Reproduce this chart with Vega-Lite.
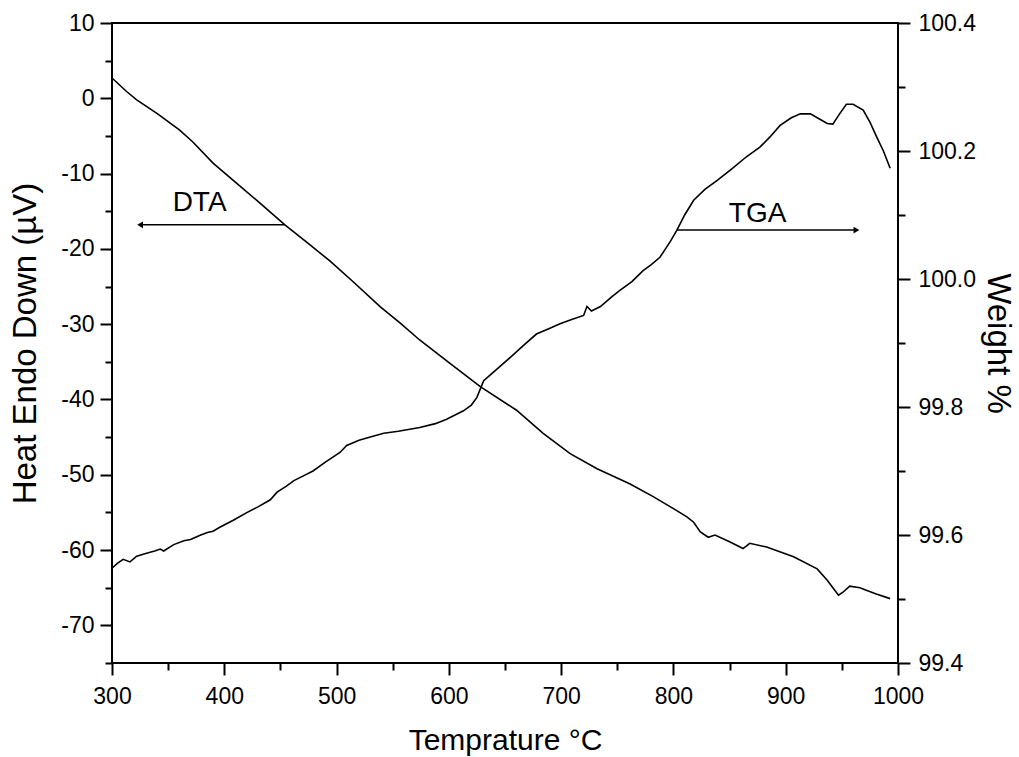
{
  "$schema": "https://vega.github.io/schema/vega-lite/v6.json",
  "width": 786,
  "height": 640,
  "autosize": "none",
  "padding": {"left": 112, "top": 23, "right": 121, "bottom": 94},
  "background": "white",
  "config": {
    "view": {"stroke": "black", "strokeWidth": 2},
    "axis": {
      "labelFont": "Liberation Sans",
      "titleFont": "Liberation Sans",
      "labelFontSize": 23,
      "titleFontSize": 33,
      "titleFontWeight": "normal",
      "labelColor": "black",
      "titleColor": "black",
      "tickColor": "black",
      "domainColor": "black",
      "tickWidth": 2,
      "domainWidth": 2,
      "grid": false,
      "tickSize": 12,
      "labelPadding": 6,
      "labelFlush": false
    },
    "text": {"font": "Liberation Sans"}
  },
  "datasets": {
    "dta": [
      {"t": 300, "v": 2.7}, {"t": 313, "v": 0.9}, {"t": 322, "v": -0.2}, {"t": 340, "v": -2.0},
      {"t": 360, "v": -4.2}, {"t": 372, "v": -5.8}, {"t": 390, "v": -8.6}, {"t": 408, "v": -10.9},
      {"t": 430, "v": -13.7}, {"t": 454, "v": -16.8}, {"t": 475, "v": -19.3}, {"t": 494, "v": -21.6},
      {"t": 515, "v": -24.4}, {"t": 539, "v": -27.7}, {"t": 557, "v": -29.9}, {"t": 574, "v": -32.1},
      {"t": 601, "v": -35.2}, {"t": 628, "v": -38.3}, {"t": 660, "v": -41.4}, {"t": 684, "v": -44.5},
      {"t": 708, "v": -47.2}, {"t": 732, "v": -49.2}, {"t": 761, "v": -51.2}, {"t": 782, "v": -52.9},
      {"t": 800, "v": -54.5}, {"t": 812, "v": -55.6}, {"t": 818, "v": -56.3}, {"t": 824, "v": -57.6},
      {"t": 831, "v": -58.3}, {"t": 837, "v": -58.0}, {"t": 850, "v": -58.9}, {"t": 862, "v": -59.8},
      {"t": 868, "v": -59.1}, {"t": 883, "v": -59.6}, {"t": 907, "v": -60.9}, {"t": 928, "v": -62.5},
      {"t": 937, "v": -64.0}, {"t": 942, "v": -65.0}, {"t": 947, "v": -66.0}, {"t": 951, "v": -65.6},
      {"t": 957, "v": -64.8}, {"t": 966, "v": -65.0}, {"t": 980, "v": -65.8}, {"t": 993, "v": -66.45}
    ],
    "tga": [
      {"t": 300, "w": 99.548}, {"t": 305, "w": 99.556}, {"t": 310, "w": 99.562}, {"t": 316, "w": 99.558},
      {"t": 322, "w": 99.567}, {"t": 330, "w": 99.571}, {"t": 338, "w": 99.575}, {"t": 343, "w": 99.578},
      {"t": 346, "w": 99.575}, {"t": 355, "w": 99.585}, {"t": 364, "w": 99.591}, {"t": 370, "w": 99.593},
      {"t": 375, "w": 99.597}, {"t": 379, "w": 99.6}, {"t": 385, "w": 99.604}, {"t": 390, "w": 99.606},
      {"t": 396, "w": 99.612}, {"t": 408, "w": 99.623}, {"t": 420, "w": 99.635}, {"t": 430, "w": 99.644},
      {"t": 441, "w": 99.655}, {"t": 447, "w": 99.667}, {"t": 455, "w": 99.676}, {"t": 462, "w": 99.685},
      {"t": 470, "w": 99.692}, {"t": 479, "w": 99.7}, {"t": 490, "w": 99.714}, {"t": 503, "w": 99.729},
      {"t": 509, "w": 99.74}, {"t": 520, "w": 99.748}, {"t": 530, "w": 99.753}, {"t": 542, "w": 99.759},
      {"t": 555, "w": 99.762}, {"t": 574, "w": 99.768}, {"t": 588, "w": 99.774}, {"t": 598, "w": 99.781},
      {"t": 613, "w": 99.794}, {"t": 620, "w": 99.803}, {"t": 625, "w": 99.815}, {"t": 631, "w": 99.841},
      {"t": 640, "w": 99.855}, {"t": 655, "w": 99.878}, {"t": 667, "w": 99.897}, {"t": 678, "w": 99.914},
      {"t": 690, "w": 99.923}, {"t": 699, "w": 99.93}, {"t": 710, "w": 99.937}, {"t": 720, "w": 99.943},
      {"t": 723, "w": 99.957}, {"t": 727, "w": 99.95}, {"t": 735, "w": 99.957}, {"t": 745, "w": 99.972},
      {"t": 752, "w": 99.982}, {"t": 763, "w": 99.996}, {"t": 773, "w": 100.013}, {"t": 780, "w": 100.022},
      {"t": 788, "w": 100.034}, {"t": 797, "w": 100.058}, {"t": 803, "w": 100.076}, {"t": 810, "w": 100.1},
      {"t": 818, "w": 100.123}, {"t": 828, "w": 100.14}, {"t": 839, "w": 100.154}, {"t": 852, "w": 100.172},
      {"t": 865, "w": 100.191}, {"t": 877, "w": 100.206}, {"t": 886, "w": 100.222}, {"t": 895, "w": 100.24},
      {"t": 905, "w": 100.252}, {"t": 913, "w": 100.258}, {"t": 922, "w": 100.258}, {"t": 930, "w": 100.25},
      {"t": 937, "w": 100.243}, {"t": 942, "w": 100.242}, {"t": 948, "w": 100.258}, {"t": 954, "w": 100.273},
      {"t": 960, "w": 100.273}, {"t": 969, "w": 100.264}, {"t": 975, "w": 100.245}, {"t": 981, "w": 100.222},
      {"t": 987, "w": 100.2}, {"t": 993, "w": 100.173}
    ],
    "notes": [
      {"name": "DTA", "t": 378, "v": -13.9},
      {"name": "TGA", "t": 875, "v": -15.4}
    ],
    "arrows": [
      {"name": "DTA", "from": 454, "to": 325, "v": -16.8},
      {"name": "TGA", "from": 803, "to": 963, "v": -17.5}
    ]
  },
  "layer": [
    {
      "resolve": {"axis": {"x": "independent", "y": "independent"}},
      "layer": [
        {
          "data": {"name": "dta"},
          "mark": {"type": "line", "color": "black", "strokeWidth": 1.6},
          "encoding": {
            "x": {"field": "t", "type": "quantitative",
              "scale": {"domain": [300, 1000], "nice": false},
              "axis": {"orient": "bottom", "values": [300, 400, 500, 600, 700, 800, 900, 1000],
                "labelExpr": "datum.value + ''",
                "title": "Temprature °C", "titleFontSize": 30, "labelPadding": 10, "titlePadding": 17, "domain": false}},
            "y": {"field": "v", "type": "quantitative",
              "scale": {"domain": [-75, 10], "nice": false, "zero": false},
              "axis": {"orient": "left", "values": [-70, -60, -50, -40, -30, -20, -10, 0, 10],
                "labelExpr": "datum.value + ''",
                "title": "Heat Endo Down (µV)", "titlePadding": 18, "domain": false}}
          }
        },
        {
          "data": {"name": "dta"},
          "mark": {"type": "line", "color": "black", "opacity": 0},
          "encoding": {
            "x": {"field": "t", "type": "quantitative",
              "scale": {"domain": [300, 1000], "nice": false},
              "axis": {"orient": "bottom", "values": [350, 450, 550, 650, 750, 850, 950],
                "labels": false, "title": null, "tickSize": 7, "domain": false}},
            "y": {"field": "v", "type": "quantitative",
              "scale": {"domain": [-75, 10], "nice": false, "zero": false},
              "axis": {"orient": "left", "values": [-75, -65, -55, -45, -35, -25, -15, -5, 5],
                "labels": false, "title": null, "tickSize": 7, "domain": false}}
          }
        },
        {
          "data": {"name": "notes"},
          "mark": {"type": "text", "fontSize": 28, "color": "black", "align": "center", "baseline": "middle"},
          "encoding": {
            "x": {"field": "t", "type": "quantitative", "axis": null},
            "y": {"field": "v", "type": "quantitative", "axis": null},
            "text": {"field": "name"}
          }
        },
        {
          "data": {"name": "arrows"},
          "mark": {"type": "rule", "color": "black", "strokeWidth": 1.5},
          "encoding": {
            "x": {"field": "from", "type": "quantitative", "axis": null},
            "x2": {"field": "to"},
            "y": {"field": "v", "type": "quantitative", "axis": null}
          }
        },
        {
          "data": {"name": "arrows"},
          "mark": {"type": "point", "filled": true, "color": "black", "size": 45, "opacity": 1},
          "encoding": {
            "x": {"field": "to", "type": "quantitative", "axis": null},
            "y": {"field": "v", "type": "quantitative", "axis": null},
            "shape": {"field": "name", "type": "nominal",
              "scale": {"domain": ["DTA", "TGA"], "range": ["triangle-left", "triangle-right"]},
              "legend": null}
          }
        }
      ]
    },
    {
      "resolve": {"axis": {"y": "independent"}},
      "layer": [
        {
          "data": {"name": "tga"},
          "mark": {"type": "line", "color": "black", "strokeWidth": 1.6},
          "encoding": {
            "x": {"field": "t", "type": "quantitative", "axis": null},
            "y": {"field": "w", "type": "quantitative",
              "scale": {"domain": [99.4, 100.4], "nice": false, "zero": false},
              "axis": {"orient": "right", "values": [99.4, 99.6, 99.8, 100, 100.2, 100.4],
                "format": ".1f", "title": "Weight %", "labelPadding": 8, "titlePadding": 5, "domain": false}}
          }
        },
        {
          "data": {"name": "tga"},
          "mark": {"type": "line", "color": "black", "opacity": 0},
          "encoding": {
            "x": {"field": "t", "type": "quantitative", "axis": null},
            "y": {"field": "w", "type": "quantitative",
              "scale": {"domain": [99.4, 100.4], "nice": false, "zero": false},
              "axis": {"orient": "right", "values": [99.5, 99.7, 99.9, 100.1, 100.3],
                "labels": false, "title": null, "tickSize": 7, "domain": false}}
          }
        }
      ]
    }
  ],
  "resolve": {"scale": {"y": "independent"}, "axis": {"y": "independent"}}
}
